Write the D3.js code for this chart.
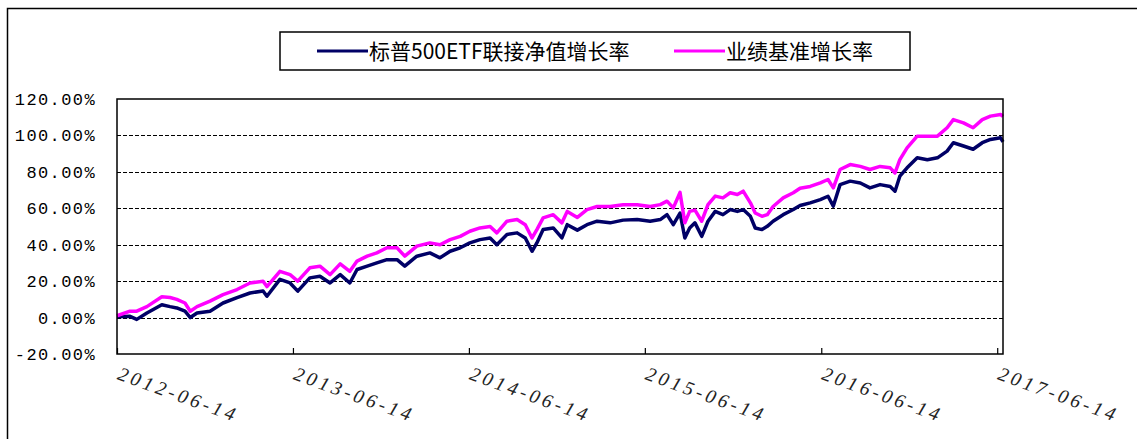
<!DOCTYPE html>
<html>
<head>
<meta charset="utf-8">
<script src="https://cdn.jsdelivr.net/npm/d3@7"></script>
<style>
  html, body { margin: 0; padding: 0; background: #fff; }
  svg { display: block; }
</style>
</head>
<body>
<div id="chart"></div>
<script>
// Series names (legend order)
const seriesNames = ["标普500ETF联接净值增长率", "业绩基准增长率"];

// Sample dates
const dates = [
  "2012-06-14","2012-07-11","2012-07-25","2012-08-15","2012-09-15","2012-10-02","2012-10-16","2012-11-02","2012-11-13","2012-11-27","2012-12-24",
  "2013-01-20","2013-02-18","2013-03-17","2013-04-13","2013-04-21","2013-05-18","2013-06-08","2013-06-24","2013-07-19","2013-08-09","2013-08-30","2013-09-20","2013-10-10","2013-10-25","2013-11-15","2013-12-05","2013-12-26",
  "2014-01-16","2014-02-01","2014-02-26","2014-03-25","2014-04-15","2014-05-06","2014-05-27","2014-06-16","2014-07-07","2014-07-28","2014-08-11","2014-09-01","2014-09-22","2014-10-09","2014-10-23","2014-11-02","2014-11-15","2014-12-06","2014-12-24",
  "2015-01-04","2015-01-25","2015-02-14","2015-03-07","2015-04-03","2015-04-30","2015-05-29","2015-06-25","2015-07-16","2015-07-30","2015-08-12","2015-08-26","2015-09-05","2015-09-15","2015-09-26","2015-10-10","2015-10-23","2015-11-07","2015-11-23","2015-12-08","2015-12-23",
  "2016-01-04","2016-01-19","2016-01-29","2016-02-12","2016-02-23","2016-03-06","2016-03-27","2016-04-17","2016-05-01","2016-05-22","2016-06-12","2016-06-28","2016-07-09","2016-07-23","2016-08-13","2016-09-03","2016-09-23","2016-10-14","2016-11-04","2016-11-14","2016-11-24","2016-12-09","2016-12-30",
  "2017-01-20","2017-02-10","2017-03-02","2017-03-15","2017-04-05","2017-04-25","2017-05-14","2017-05-31","2017-06-21","2017-06-26"
];

// Fund NAV growth (%)
const fundValues = [
  0.5, 0.7, -1, 2.5, 7, 6, 5.3, 3.5, 0, 2.5, 3.5,
  8, 11, 13.5, 14.6, 11.7, 21, 19, 14.5, 21.8, 22.7, 19, 23.6, 19, 26.4, 28.2, 30, 31.8,
  31.8, 28.2, 33.7, 35.5, 32.8, 36.4, 38.3, 41, 42.8, 43.7, 40, 45.6, 46.5, 43.7, 36.4, 41, 48.3, 49.2, 43.7,
  51, 48, 51, 52.9, 52, 53.5, 53.8, 52.9, 53.8, 56.5, 51, 57.4, 43.7, 49.2, 52, 44.6, 52.9, 58.3, 56.5, 59.3, 58.3,
  59.3, 55.6, 49.2, 48.3, 50.1, 52.9, 56.5, 59.3, 61.5, 63, 64.8, 66.6, 61.2, 73, 74.9, 73.9, 71.2, 73, 72, 69.4, 77.6, 82.2, 87.7,
  86.7, 87.7, 91.4, 96, 94.2, 92.4, 96, 97.8, 98.7, 96.5
];

// Benchmark growth (%)
const benchValues = [
  1, 3.5, 3.5, 6, 11.4, 11, 10, 8, 3.5, 6, 9,
  12.6, 15.4, 19, 20, 17, 25.4, 23.6, 20, 27.3, 28.2, 23.6, 29.5, 25.4, 31, 33.7, 35.5, 38.3,
  38.3, 33.7, 39.2, 41, 40, 42.8, 44.6, 47.4, 49.2, 50, 46.5, 52.9, 53.8, 51, 43.7, 48.3, 54.7, 56.5, 52,
  58.3, 55, 59.3, 61, 61, 62, 62, 61, 62, 63.9, 60.2, 68.7, 52, 58.3, 59, 52.9, 62, 66.7, 65.7, 68.5, 67.6,
  69.4, 63, 57.4, 55.6, 56.5, 61, 65.7, 68.5, 71, 72, 73.9, 75.8, 71.2, 81.3, 84, 83, 81.3, 83, 82.2, 79.4, 86.7, 93.2, 99.6,
  99.6, 99.6, 104.2, 108.7, 106.9, 104.2, 108.7, 110.6, 111.5, 110.5
];

// Axis ticks
const xTickLabels = ["2012-06-14","2013-06-14","2014-06-14","2015-06-14","2016-06-14","2017-06-14"];
const yTickValues = [-20, 0, 20, 40, 60, 80, 100, 120];

const W = 1137, H = 439;
const plot = { left: 117, top: 99, right: 1003, bottom: 354 };
const colors = ["#000066", "#ff00ff"];

const parse = d3.timeParse("%Y-%m-%d");

const svg = d3.select("#chart").append("svg")
  .attr("width", W)
  .attr("height", H);

// outer frame (right and bottom edges run off the picture)
svg.append("rect")
  .attr("x", 7.5).attr("y", 8.5)
  .attr("width", W + 20).attr("height", H + 20)
  .attr("fill", "#fff")
  .attr("stroke", "#000")
  .attr("stroke-width", 1.5);

const x = d3.scaleTime()
  .domain([parse("2012-06-14"), parse("2017-06-26")])
  .range([plot.left, plot.right]);

const y = d3.scaleLinear()
  .domain([-20, 120])
  .range([plot.bottom, plot.top]);

// dashed grid lines
svg.append("g")
  .selectAll("line")
  .data(yTickValues.filter(v => v > -20 && v < 120))
  .enter().append("line")
  .attr("x1", plot.left).attr("x2", plot.right)
  .attr("y1", d => Math.round(y(d)) + 0.5)
  .attr("y2", d => Math.round(y(d)) + 0.5)
  .attr("stroke", "#000")
  .attr("stroke-width", 1)
  .attr("stroke-dasharray", "4,2");

// y axis labels
const yAxis = d3.axisLeft(y)
  .tickValues(yTickValues)
  .tickSize(0)
  .tickPadding(0)
  .tickFormat(d => d.toFixed(2) + "%");

svg.append("g")
  .attr("transform", "translate(96,0)")
  .call(yAxis)
  .call(g => g.select(".domain").remove())
  .selectAll("text")
  .attr("font-family", "'Liberation Mono', 'DejaVu Sans Mono', monospace")
  .attr("font-size", 17)
  .attr("letter-spacing", 1.4)
  .attr("fill", "#000");

// x axis ticks + rotated labels
const xAxis = d3.axisBottom(x)
  .tickValues(xTickLabels.map(parse))
  .tickSize(-6)
  .tickSizeOuter(0)
  .tickFormat(d3.timeFormat("%Y-%m-%d"));

const xg = svg.append("g")
  .attr("transform", `translate(0,${plot.bottom})`)
  .call(xAxis);
xg.select(".domain").remove();
xg.selectAll(".tick line").attr("stroke", "#000").attr("stroke-width", 1.2);
xg.selectAll(".tick text")
  .attr("font-family", "'Liberation Serif', 'DejaVu Serif', serif")
  .attr("font-style", "italic")
  .attr("font-size", 19.5)
  .attr("letter-spacing", 3.6)
  .attr("fill", "#222")
  .attr("text-anchor", "start")
  .attr("y", 0)
  .attr("dy", 0)
  .attr("transform", "translate(-1,25) rotate(20)");

// series lines
const series = [fundValues, benchValues].map((vals, i) => ({
  name: seriesNames[i],
  color: colors[i],
  points: dates.map((d, j) => ({ date: parse(d), value: vals[j] }))
}));

const line = d3.line()
  .x(d => x(d.date))
  .y(d => y(d.value));

svg.append("g")
  .selectAll("path")
  .data(series)
  .enter().append("path")
  .attr("d", d => line(d.points))
  .attr("fill", "none")
  .attr("stroke", d => d.color)
  .attr("stroke-width", 3.5)
  .attr("stroke-linejoin", "round");

// plot frame
svg.append("rect")
  .attr("x", plot.left).attr("y", plot.top)
  .attr("width", plot.right - plot.left)
  .attr("height", plot.bottom - plot.top)
  .attr("fill", "none")
  .attr("stroke", "#000")
  .attr("stroke-width", 1.5);

// legend
const legend = svg.append("g");
legend.append("rect")
  .attr("x", 280).attr("y", 32)
  .attr("width", 630).attr("height", 38)
  .attr("fill", "#fff")
  .attr("stroke", "#000")
  .attr("stroke-width", 1.5);

const legendX = [317, 674];
const items = legend.selectAll(".item")
  .data(series)
  .enter().append("g")
  .attr("class", "item")
  .attr("transform", (d, i) => `translate(${legendX[i]},51)`);

items.append("line")
  .attr("x1", 0).attr("x2", 51)
  .attr("stroke", d => d.color)
  .attr("stroke-width", 3);

items.append("text")
  .attr("x", 52)
  .attr("dy", "0.36em")
  .attr("font-family", "'Noto Sans CJK SC', sans-serif")
  .attr("font-size", 21)
  .attr("fill", "#000")
  .text(d => d.name);
</script>
</body>
</html>
